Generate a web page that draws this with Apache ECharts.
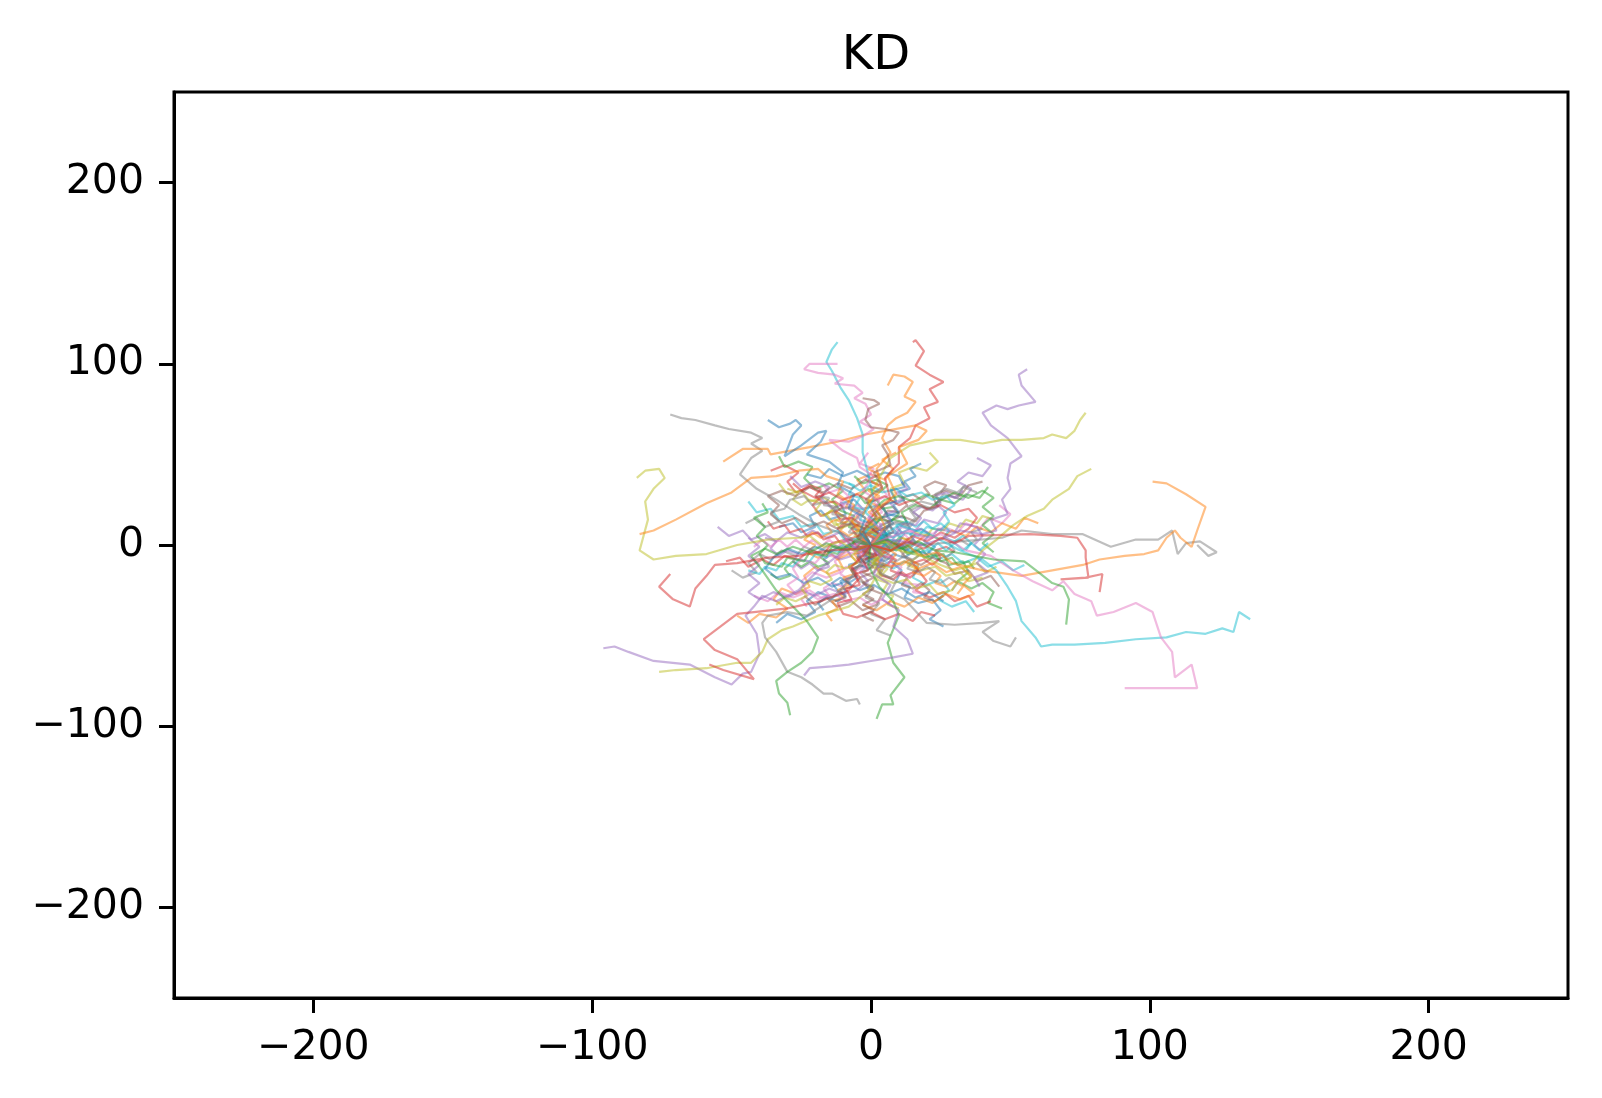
<!DOCTYPE html>
<html>
<head>
<meta charset="utf-8">
<script src="https://cdn.jsdelivr.net/npm/echarts@6/dist/echarts.min.js"></script>
<style>
  html, body { margin: 0; padding: 0; background: #fff; }
  #chart { width: 1602px; height: 1098px; }
</style>
</head>
<body>
<div id="chart"></div>
<script>
// tab10 palette (matplotlib default cycle)
var palette = {
    blue: '#1f77b4', orange: '#ff7f0e', green: '#2ca02c', red: '#d62728', purple: '#9467bd',
    brown: '#8c564b', pink: '#e377c2', gray: '#7f7f7f', yellow: '#bcbd22', cyan: '#17becf'
};

var tickValues = [-200, -100, 0, 100, 200];

// walks that reach far from the origin
var outerWalks = [
    [[0,0],[4,-3],[8,2],[12,-1],[15,3],[18,0],[32,2],[47,4],[54,8],[65,6],[76,6],[86,-1],[95,3],[103,3],[108,8],[110,-5],[113,1],[118,2],[124,-4],[121,-6],[117,0]],
    [[0,0],[7,-3],[12,1],[18,-6],[24,-4],[29,-10],[40,-14],[54,-17],[65,-14],[76,-11],[82,-8],[91,-6],[98,-5],[103,-3],[106,4],[109,8],[111,4],[115,-1],[117,8],[120,21],[113,28],[106,34],[101,35]],
    [[0,0],[5,6],[10,11],[16,8],[21,6],[27,1],[32,-3],[40,-8],[45,-14],[49,-23],[52,-31],[54,-42],[59,-51],[61,-56],[65,-55],[73,-55],[84,-54],[95,-52],[106,-51],[113,-48],[120,-49],[126,-46],[130,-48],[132,-37],[136,-41]],
    [[0,0],[6,4],[14,8],[20,3],[25,6],[30,1],[34,-3],[43,-6],[51,-14],[58,-20],[65,-25],[69,-20],[73,-27],[79,-31],[81,-39],[87,-37],[95,-32],[101,-37],[104,-51],[108,-59],[109,-73],[115,-66],[117,-79],[91,-79]],
    [[0,0],[3,6],[-2,11],[1,17],[7,25],[5,37],[10,45],[10,54],[14,59],[16,66],[21,70],[19,76],[24,79],[21,86],[26,90],[21,94],[16,99],[19,107],[16,113],[15,112]],
    [[0,0],[-3,3],[1,11],[-3,16],[-1,23],[4,31],[2,42],[7,51],[4,59],[6,66],[9,70],[13,73],[16,79],[12,82],[15,90],[12,93],[8,94],[6,88]],
    [[0,0],[5,3],[9,-2],[14,2],[18,0],[25,3],[32,8],[40,6],[45,8],[43,14],[49,17],[47,25],[50,31],[49,37],[50,45],[54,49],[49,59],[43,66],[40,73],[45,77],[49,75],[53,77],[59,79],[54,88],[53,94],[56,97]],
    [[0,0],[3,5],[-2,9],[2,14],[-1,25],[3,37],[7,48],[14,55],[23,58],[32,58],[40,56],[47,58],[54,58],[62,59],[65,61],[70,59],[73,63],[75,69],[77,73]],
    [[0,0],[5,2],[10,-3],[18,-6],[25,-11],[30,-14],[36,-11],[40,-3],[45,3],[51,11],[56,16],[62,20],[65,25],[71,31],[74,38],[79,42]],
    [[0,0],[-4,-3],[-8,1],[-12,-6],[-19,-14],[-26,-25],[-34,-31],[-39,-28],[-42,-34],[-45,-39],[-41,-49],[-40,-60],[-43,-70],[-46,-71],[-50,-77],[-56,-73],[-65,-66],[-78,-64],[-87,-59],[-92,-56],[-96,-57]],
    [[0,0],[4,-5],[0,-9],[3,-14],[-1,-25],[-8,-34],[-19,-39],[-28,-45],[-32,-47],[-37,-52],[-39,-59],[-43,-65],[-48,-65],[-59,-68],[-70,-69],[-76,-70]],
    [[0,0],[-3,-8],[-8,-20],[-15,-31],[-23,-39],[-30,-37],[-37,-39],[-39,-43],[-38,-51],[-34,-59],[-30,-70],[-25,-73],[-21,-77],[-17,-82],[-14,-82],[-9,-86],[-5,-85],[-4,-88]],
    [[0,0],[-1,-11],[3,-23],[8,-31],[10,-39],[6,-54],[8,-65],[12,-73],[7,-83],[8,-88],[4,-88],[2,-96]],
    [[0,0],[-5,3],[-10,-2],[-16,1],[-22,-4],[-28,-1],[-34,-5],[-38,-2],[-43,-6],[-39,-14],[-34,-25],[-28,-34],[-23,-42],[-19,-51],[-21,-59],[-25,-65],[-30,-70],[-34,-75],[-33,-82],[-30,-87],[-29,-94]],
    [[0,0],[-6,-3],[-11,2],[-17,-1],[-22,5],[-26,4],[-37,3],[-48,0],[-59,-5],[-70,-6],[-78,-8],[-83,-3],[-80,14],[-81,24],[-78,31],[-74,37],[-76,42],[-81,41],[-84,37]],
    [[0,0],[-5,2],[-10,6],[-19,11],[-26,17],[-34,25],[-41,31],[-47,39],[-43,48],[-39,52],[-43,56],[-39,59],[-43,62],[-51,64],[-56,66],[-63,69],[-68,70],[-72,72]],
    [[0,0],[-4,-2],[-15,-3],[-26,-6],[-37,-7],[-48,-10],[-56,-11],[-59,-17],[-63,-24],[-65,-34],[-71,-30],[-76,-23],[-72,-16]],
    [[0,0],[-3,-6],[-7,-12],[-4,-18],[-8,-25],[-18,-31],[-30,-35],[-42,-37],[-48,-38],[-60,-52],[-56,-58],[-48,-63],[-42,-74],[-53,-69],[-58,-66]],
    [[0,0],[-4,8],[-8,15],[-6,22],[-12,28],[-10,35],[-16,38],[-19,42],[-26,41],[-34,38],[-43,37],[-50,29],[-59,23],[-70,14],[-78,8],[-83,6]],
    [[0,0],[5,10],[2,20],[9,28],[6,38],[13,45],[10,54],[17,58],[20,63],[16,66],[-2,61],[-12,57],[-22,54],[-36,50],[-37,53],[-46,53],[-53,46]],
    [[0,0],[-3,6],[2,12],[-2,18],[1,25],[-1,39],[-3,51],[-3,61],[-5,70],[-8,80],[-11,87],[-14,96],[-16,101],[-14,108],[-12,112]],
    [[0,0],[4,8],[-1,15],[3,24],[-3,30],[1,38],[-4,43],[-5,48],[-10,52],[-15,58],[-8,57],[-3,60],[1,64],[-4,68],[0,72],[-2,78],[-6,81],[-3,84],[-6,88],[-13,89],[-10,92],[-13,94],[-19,95],[-24,97],[-22,100],[-12,100]],
    [[0,0],[-3,8],[2,16],[-2,25],[4,32],[1,40],[7,44],[6,50],[4,55],[8,58],[10,62],[5,64],[0,65],[-2,69],[-1,75],[3,78],[1,80],[-3,81]],
    [[0,0],[-4,7],[-2,15],[-8,20],[-6,28],[-12,33],[-10,40],[-15,46],[-23,50],[-18,57],[-16,63],[-19,62],[-25,55],[-31,49],[-30,53],[-28,61],[-25,66],[-27,69],[-29,67],[-33,65],[-37,69]],
    [[0,0],[4,-8],[1,-16],[7,-22],[4,-30],[10,-36],[8,-45],[13,-52],[15,-60],[8,-62],[0,-64],[-8,-66],[-14,-67],[-22,-68],[-24,-72]],
    [[0,0],[5,-7],[3,-15],[9,-20],[7,-26],[12,-30],[20,-43],[30,-44],[40,-43],[46,-42],[40,-48],[44,-53],[50,-56],[52,-51]],
    [[0,0],[6,3],[11,-2],[17,2],[23,-3],[30,-4],[44,-8],[55,-9],[60,-15],[65,-21],[69,-23],[71,-30],[70,-44]],
    [[0,0],[7,-3],[13,2],[19,-2],[25,4],[30,1],[35,5],[57,6],[68,5],[74,4],[77,-3],[77,-7],[78,-18],[68,-19],[77,-18],[83,-16],[82,-26]]
];
var outerColors = ['gray','orange','cyan','pink','red','orange','purple','yellow','yellow','purple',
    'yellow','gray','green','green','yellow','gray','red','red','orange','orange',
    'cyan','pink','brown','blue','purple','gray','green','red'];

// the dense tangle near the origin
var coreWalks = [
    [[0,0],[4,3],[2,8],[7,10],[10,6],[14,9],[12,15],[6,17],[3,22],[-3,20],[-6,25],[-11,23],[-9,17],[-15,14],[-18,19],[-22,16],[-20,10],[-25,7],[-28,12],[-33,10]],
    [[0,0],[-3,-4],[-8,-2],[-12,-7],[-10,-13],[-15,-16],[-20,-12],[-24,-17],[-22,-23],[-27,-27],[-32,-24],[-35,-30],[-30,-35],[-34,-40],[-40,-38],[-44,-43],[-48,-39]],
    [[0,0],[5,-3],[9,1],[13,-4],[18,-2],[21,-7],[26,-5],[28,-11],[33,-9],[35,-15],[31,-20],[36,-24],[40,-21],[44,-26],[42,-32],[47,-35]],
    [[0,0],[-4,5],[-9,3],[-12,9],[-8,14],[-13,19],[-18,16],[-21,22],[-17,28],[-22,32],[-27,29],[-30,35],[-26,40],[-31,44],[-36,41]],
    [[0,0],[3,6],[8,4],[11,10],[16,8],[19,14],[24,12],[27,18],[23,23],[28,27],[33,25],[36,31],[31,35],[35,40],[40,38],[43,44],[38,48]],
    [[0,0],[-2,-6],[3,-9],[1,-15],[-4,-18],[-1,-24],[4,-27],[2,-33],[-3,-36],[-7,-31],[-12,-34],[-16,-29],[-20,-33],[-24,-28]],
    [[0,0],[6,2],[10,-2],[15,1],[12,6],[17,9],[22,6],[26,10],[31,7],[34,12],[39,9],[42,15],[47,12],[50,17],[46,22]],
    [[0,0],[-6,1],[-10,-3],[-15,0],[-19,-4],[-24,-1],[-27,-6],[-32,-3],[-36,-8],[-40,-5],[-44,-10],[-41,-15],[-46,-18],[-50,-14]],
    [[0,0],[2,5],[-2,9],[1,14],[6,16],[4,22],[9,25],[7,31],[12,34],[10,40],[15,43],[20,41],[24,46],[21,51]],
    [[0,0],[5,-5],[3,-10],[8,-13],[12,-9],[17,-12],[15,-18],[20,-22],[25,-19],[28,-25],[24,-30],[29,-34],[34,-31],[37,-37]],
    [[0,0],[-5,-3],[-3,-9],[-8,-11],[-6,-17],[-11,-20],[-9,-26],[-14,-29],[-19,-26],[-23,-31],[-20,-37],[-25,-41],[-30,-38],[-34,-43]],
    [[0,0],[7,-1],[11,4],[16,1],[20,6],[25,3],[29,8],[34,5],[38,10],[43,7],[47,12],[52,9],[55,15],[60,12]],
    [[0,0],[-3,7],[-8,10],[-6,16],[-11,19],[-14,25],[-10,30],[-15,34],[-20,31],[-24,37],[-21,43],[-26,46],[-31,43],[-33,49]],
    [[0,0],[4,-6],[9,-8],[7,-14],[12,-17],[17,-14],[20,-20],[16,-25],[21,-29],[26,-26],[30,-31],[35,-28],[38,-34],[43,-31]],
    [[0,0],[-7,2],[-11,7],[-16,4],[-21,8],[-25,4],[-30,7],[-34,2],[-38,6],[-43,3],[-46,8],[-51,5],[-55,10]],
    [[0,0],[3,5],[8,7],[6,13],[11,16],[16,13],[19,19],[24,21],[22,27],[27,30],[32,27],[35,33],[40,35]],
    [[0,0],[-4,-5],[-9,-4],[-13,-9],[-11,-15],[-16,-18],[-21,-15],[-25,-20],[-23,-26],[-28,-29],[-33,-26],[-37,-31],[-42,-28]],
    [[0,0],[6,4],[4,9],[9,12],[14,10],[17,16],[13,21],[18,24],[23,22],[26,28],[31,26],[33,32],[38,29]],
    [[0,0],[-5,4],[-3,10],[-8,13],[-13,11],[-16,17],[-12,22],[-17,26],[-22,24],[-25,30],[-30,28],[-33,34]],
    [[0,0],[6,-3],[11,0],[15,-5],[20,-3],[24,-8],[29,-5],[33,-10],[38,-7],[42,-12],[47,-9],[51,-14],[55,-11]],
    [[0,0],[2,-4],[-2,-8],[3,-12],[7,-9],[11,-14],[9,-20],[14,-23],[12,-29],[17,-32],[22,-30],[25,-36],[21,-41],[26,-45]],
    [[0,0],[-4,3],[-2,9],[-7,12],[-4,18],[-9,21],[-7,27],[-2,30],[-5,36],[0,39],[5,36],[8,42],[4,47],[9,51]],
    [[0,0],[5,4],[3,10],[8,14],[13,12],[11,18],[16,22],[21,20],[25,25],[30,23],[34,28],[39,26],[42,32]],
    [[0,0],[-6,-2],[-9,3],[-14,1],[-17,-5],[-22,-3],[-26,-8],[-31,-6],[-35,-11],[-39,-8],[-44,-12],[-47,-7],[-52,-9]],
    [[0,0],[4,5],[0,10],[-5,8],[-8,14],[-4,19],[-9,23],[-14,20],[-18,26],[-15,32],[-20,35],[-25,32],[-29,38]],
    [[0,0],[5,-4],[10,-2],[13,-8],[18,-11],[22,-7],[27,-10],[30,-16],[35,-14],[38,-20],[43,-17],[46,-23]],
    [[0,0],[-3,6],[2,9],[-1,15],[4,18],[1,24],[6,27],[3,33],[-2,36],[1,42],[-4,45],[-1,51]],
    [[0,0],[-5,-5],[-2,-11],[-7,-14],[-4,-20],[1,-23],[-2,-29],[3,-32],[0,-38],[5,-41],[2,-47],[7,-50]],
    [[0,0],[6,2],[9,-3],[14,-1],[17,-6],[13,-11],[18,-14],[23,-12],[27,-17],[32,-15],[35,-20],[40,-18]],
    [[0,0],[-4,4],[-9,2],[-12,8],[-17,6],[-20,12],[-25,10],[-28,16],[-33,14],[-36,20],[-41,18],[-44,24]],
    [[0,0],[3,-2],[6,1],[4,5],[8,7],[11,4],[9,-1],[13,-3],[16,1],[14,6],[18,9],[21,6],[19,2],[23,-1],[20,-5],[16,-3],[12,-7],[8,-5],[5,-9],[1,-7],[-2,-10],[-5,-6]],
    [[0,0],[-3,2],[-1,6],[-5,8],[-8,5],[-11,8],[-9,12],[-13,14],[-16,11],[-14,7],[-18,4],[-21,7],[-24,3],[-20,0],[-23,-4],[-19,-7],[-15,-4],[-12,-8],[-8,-5],[-5,-9]],
    [[0,0],[2,4],[6,3],[5,8],[1,10],[3,14],[7,13],[10,17],[8,21],[4,20],[2,25],[-2,23],[-4,27],[-1,31],[3,29],[6,33],[2,36],[-3,34],[-6,38]],
    [[0,0],[-2,-3],[1,-6],[5,-4],[8,-7],[6,-11],[2,-13],[4,-17],[8,-19],[11,-15],[14,-18],[17,-14],[15,-10],[19,-8],[22,-11],[25,-7],[23,-3],[27,-1],[30,-4]],
    [[0,0],[-3,-2],[-6,1],[-9,-2],[-7,-6],[-11,-8],[-14,-5],[-17,-8],[-15,-12],[-19,-14],[-22,-10],[-25,-13],[-28,-9],[-26,-5],[-30,-3],[-33,-6],[-36,-2],[-34,2],[-38,4]],
    [[0,0],[2,3],[-1,5],[1,9],[5,8],[7,12],[4,15],[6,19],[10,18],[13,22],[11,26],[15,28],[18,25],[21,28],[19,32],[23,35],[27,33],[25,29]],
    [[0,0],[3,-3],[0,-6],[-3,-4],[-5,-8],[-2,-11],[-5,-14],[-9,-12],[-11,-16],[-8,-19],[-10,-23],[-14,-21],[-17,-24],[-15,-28],[-19,-30],[-22,-27],[-25,-30],[-23,-34]],
    [[0,0],[4,1],[7,-2],[10,1],[13,-2],[11,-6],[15,-8],[18,-5],[21,-8],[24,-4],[27,-7],[30,-3],[28,1],[32,3],[35,0],[38,3],[36,7],[40,9]],
    [[0,0],[-2,4],[-6,5],[-4,9],[-8,11],[-11,9],[-13,13],[-10,16],[-14,19],[-17,16],[-20,19],[-18,23],[-22,25],[-25,22],[-28,25],[-26,29],[-30,31]],
    [[0,0],[3,2],[1,6],[5,7],[8,4],[11,7],[9,11],[13,13],[16,10],[19,13],[22,9],[25,12],[28,8],[26,4],[30,2],[33,5],[36,1],[34,-3]],
    [[0,0],[-3,-3],[-1,-7],[2,-10],[-1,-13],[-4,-11],[-7,-14],[-5,-18],[-8,-21],[-11,-18],[-14,-21],[-12,-25],[-9,-28],[-12,-31],[-16,-29],[-19,-32],[-17,-36]],
    [[0,0],[2,-3],[6,-2],[9,-5],[7,-9],[11,-11],[14,-8],[17,-11],[15,-15],[19,-17],[22,-14],[25,-17],[23,-21],[27,-23],[30,-20],[33,-23],[31,-27]],
    [[0,0],[-4,1],[-6,-3],[-10,-1],[-12,-5],[-16,-3],[-18,-7],[-15,-10],[-19,-12],[-22,-9],[-25,-12],[-28,-9],[-31,-13],[-29,-17],[-33,-19],[-36,-16]],
    [[0,0],[1,4],[-2,7],[-5,5],[-7,9],[-4,12],[-7,15],[-11,14],[-13,18],[-10,21],[-13,24],[-17,23],[-20,27],[-18,31],[-22,33],[-25,30],[-28,34]],
    [[0,0],[4,-1],[6,3],[10,2],[12,6],[9,9],[12,12],[16,11],[18,15],[15,18],[18,21],[22,19],[25,23],[23,27],[27,29],[30,26],[33,30]],
    [[0,0],[-1,-4],[3,-6],[1,-10],[5,-12],[3,-16],[7,-18],[10,-15],[13,-18],[11,-22],[15,-24],[18,-21],[21,-25],[19,-29],[23,-31],[26,-28]],
    [[0,0],[-3,2],[-2,6],[2,7],[4,11],[1,14],[-3,12],[-5,16],[-2,19],[-5,22],[-9,20],[-11,24],[-8,27],[-11,31],[-15,29],[-17,33]],
    [[0,0],[3,-4],[7,-3],[5,-7],[9,-9],[12,-6],[15,-9],[13,-13],[17,-15],[20,-12],[23,-15],[21,-19],[25,-21],[28,-18],[31,-21],[29,-25]],
    [[0,0],[4,2],[8,0],[10,4],[14,3],[16,7],[20,5],[22,9],[26,8],[28,12],[32,10],[34,14],[38,12],[40,16],[44,14]],
    [[0,0],[-4,-2],[-8,0],[-10,-4],[-14,-3],[-16,-7],[-20,-5],[-22,-9],[-26,-8],[-28,-12],[-32,-10],[-34,-14],[-38,-12],[-40,-16],[-44,-14]],
    [[0,0],[2,3],[6,5],[4,9],[8,12],[6,16],[10,18],[8,22],[12,25],[10,29],[14,31],[12,35],[16,38],[14,42],[18,45]],
    [[0,0],[-2,-3],[-6,-5],[-4,-9],[-8,-12],[-6,-16],[-10,-18],[-8,-22],[-12,-25],[-10,-29],[-14,-31],[-12,-35],[-16,-38],[-14,-42]],
    [[0,0],[5,1],[7,-3],[11,-1],[13,-5],[17,-3],[19,-7],[23,-5],[25,-9],[29,-7],[31,-11],[35,-9],[37,-13]],
    [[0,0],[-5,-1],[-7,3],[-11,1],[-13,5],[-17,3],[-19,7],[-23,5],[-25,9],[-29,7],[-31,11],[-35,9],[-37,13]],
    [[0,0],[1,5],[5,7],[3,11],[7,13],[5,17],[9,19],[7,23],[11,25],[9,29],[13,31],[11,35]],
    [[0,0],[-1,-5],[-5,-7],[-3,-11],[-7,-13],[-5,-17],[-9,-19],[-7,-23],[-11,-25],[-9,-29],[-13,-31]],
    [[0,0],[5,-2],[3,-6],[8,-7],[6,-11],[11,-12],[9,-16],[14,-17],[12,-21],[17,-22],[15,-26],[20,-27]],
    [[0,0],[-5,2],[-3,6],[-8,7],[-6,11],[-11,12],[-9,16],[-14,17],[-12,21],[-17,22],[-15,26],[-20,27]],
    [[0,0],[-2,-5],[2,-7],[0,-12],[4,-14],[2,-19],[6,-21],[4,-26],[8,-28],[6,-33],[10,-35]],
    [[0,0],[2,5],[-2,7],[0,12],[-4,14],[-2,19],[-6,21],[-4,26],[-8,28],[-6,33],[-10,35]]
];

// walks that loop back round the tangle instead of heading straight out
var loopWalks = [
    [[0,0],[5,3],[10,0],[15,5],[20,2],[25,7],[30,4],[35,9],[38,15],[35,20],[30,18],[25,22],[20,20],[15,25],[10,22],[5,27],[0,24],[-5,28],[-10,25],[-15,29],[-20,26],[-25,30]],
    [[0,0],[-5,-3],[-10,0],[-15,-4],[-20,-1],[-25,-5],[-30,-2],[-35,-7],[-38,-13],[-34,-18],[-29,-16],[-24,-21],[-19,-18],[-14,-23],[-9,-20],[-4,-25],[1,-22],[6,-27],[11,-24],[16,-29],[21,-26],[26,-31]],
    [[0,0],[3,5],[0,10],[4,15],[1,20],[5,25],[10,27],[15,24],[20,28],[25,25],[30,29],[35,26],[40,30],[44,26],[40,21],[44,16],[40,11],[44,6],[40,1],[44,-4]],
    [[0,0],[-3,-5],[0,-10],[-4,-15],[-1,-20],[-5,-25],[-10,-27],[-15,-24],[-20,-28],[-25,-25],[-30,-29],[-35,-26],[-40,-30],[-44,-26],[-40,-21],[-44,-16],[-40,-11],[-44,-6],[-40,-1],[-44,4]],
    [[0,0],[5,-4],[2,-9],[7,-12],[12,-9],[17,-13],[22,-10],[27,-15],[32,-12],[36,-17],[33,-22],[37,-27],[32,-30],[27,-27],[22,-32],[17,-29],[12,-34],[7,-31],[2,-36],[-3,-33]],
    [[0,0],[-5,4],[-2,9],[-7,12],[-12,9],[-17,13],[-22,10],[-27,15],[-32,12],[-36,17],[-33,22],[-37,27],[-32,30],[-27,27],[-22,32],[-17,29],[-12,34],[-7,31],[-2,36],[3,33]],
    [[0,0],[4,4],[9,2],[12,7],[17,5],[20,10],[25,8],[28,13],[26,18],[30,22],[27,27],[22,25],[18,29],[13,27],[9,31],[4,29],[0,33],[-4,30],[-8,34]],
    [[0,0],[-4,-4],[-9,-2],[-12,-7],[-17,-5],[-20,-10],[-25,-8],[-28,-13],[-26,-18],[-30,-22],[-27,-27],[-22,-25],[-18,-29],[-13,-27],[-9,-31],[-4,-29],[0,-33],[4,-30],[8,-34]],
    [[0,0],[-4,5],[-1,10],[-6,13],[-3,18],[-8,21],[-13,19],[-16,24],[-21,22],[-24,27],[-29,25],[-31,20],[-36,18],[-33,13],[-38,10],[-41,15],[-45,12]],
    [[0,0],[4,-5],[1,-10],[6,-13],[3,-18],[8,-21],[13,-19],[16,-24],[21,-22],[24,-27],[29,-25],[31,-20],[36,-18],[33,-13],[38,-10],[41,-15],[45,-12]],
    [[0,0],[2,-6],[-3,-8],[-1,-14],[-6,-16],[-4,-22],[-9,-24],[-7,-30],[-12,-32],[-10,-38],[-5,-40],[0,-37],[5,-41],[10,-38],[15,-42],[18,-37],[23,-39]],
    [[0,0],[-2,6],[3,8],[1,14],[6,16],[4,22],[9,24],[7,30],[12,32],[10,38],[5,40],[0,37],[-5,41],[-10,38],[-15,42],[-18,37],[-23,39]],
    [[0,0],[-6,2],[-8,-3],[-14,-1],[-16,-6],[-22,-4],[-24,-9],[-30,-7],[-32,-12],[-38,-10],[-40,-5],[-37,0],[-41,5],[-38,10],[-42,15],[-37,18],[-39,23]],
    [[0,0],[6,-2],[8,3],[14,1],[16,6],[22,4],[24,9],[30,7],[32,12],[38,10],[40,5],[37,0],[41,-5],[38,-10],[42,-15],[37,-18],[39,-23]],
    [[0,0],[3,3],[-1,6],[3,9],[-1,12],[3,15],[-1,18],[3,21],[-1,24],[3,27],[-1,30],[3,33],[-1,36],[3,39],[-1,42],[3,45]],
    [[0,0],[-3,-3],[1,-6],[-3,-9],[1,-12],[-3,-15],[1,-18],[-3,-21],[1,-24],[-3,-27],[1,-30],[-3,-33],[1,-36],[-3,-39],[1,-42]],
    [[0,0],[3,-3],[6,1],[9,-3],[12,1],[15,-3],[18,1],[21,-3],[24,1],[27,-3],[30,1],[33,-3],[36,1],[39,-3],[42,1]],
    [[0,0],[-3,3],[-6,-1],[-9,3],[-12,-1],[-15,3],[-18,-1],[-21,3],[-24,-1],[-27,3],[-30,-1],[-33,3],[-36,-1],[-39,3],[-42,-1]],
    [[0,0],[4,2],[7,6],[5,10],[9,13],[13,11],[16,15],[14,19],[18,22],[22,20],[25,24],[23,28],[27,31],[31,29],[34,33]],
    [[0,0],[-4,-2],[-7,-6],[-5,-10],[-9,-13],[-13,-11],[-16,-15],[-14,-19],[-18,-22],[-22,-20],[-25,-24],[-23,-28],[-27,-31],[-31,-29],[-34,-33]]
];
var loopColors = ['red','blue','green','purple','orange','brown','cyan','pink','gray','yellow'];
var coreColors = ['blue','orange','green','red','purple','brown','pink','gray','yellow','cyan'];

var chart = echarts.init(document.getElementById('chart'));

var series = [];
function addWalk(pts, col) {
    series.push({
        type: 'line',
        data: pts,
        showSymbol: false,
        silent: true,
        lineStyle: { color: palette[col], width: 2.2, opacity: 0.5 },
        z: 2
    });
}
coreWalks.forEach(function (w, i) { addWalk(w, coreColors[i % coreColors.length]); });
loopWalks.forEach(function (w, i) { addWalk(w, loopColors[i % loopColors.length]); });
outerWalks.forEach(function (w, i) { addWalk(w, outerColors[i]); });

function fmt(v) {
    return v < 0 ? '\u2212' + (-v) : String(v);
}

var axisCommon = {
    type: 'value',
    min: -250,
    max: 250,
    splitLine: { show: false },
    axisLine: { show: true, onZero: false, lineStyle: { color: '#000', width: 3 } },
    axisTick: { show: true, customValues: tickValues, length: 15, lineStyle: { color: '#000', width: 3 } },
    axisLabel: {
        customValues: tickValues,
        formatter: fmt,
        color: '#000',
        fontSize: 41,
        fontFamily: 'DejaVu Sans',
        margin: 30
    }
};

chart.setOption({
    animation: false,
    backgroundColor: '#fff',
    title: {
        text: 'KD',
        left: 871,
        top: 28,
        textAlign: 'center',
        textStyle: { fontFamily: 'DejaVu Sans', fontSize: 48, fontWeight: 'normal', color: '#000' }
    },
    grid: {
        left: 174, right: 34, top: 92, bottom: 100,
        show: true, borderColor: '#000', borderWidth: 3, backgroundColor: 'transparent'
    },
    xAxis: echarts.util.merge({ position: 'bottom' }, axisCommon, true),
    yAxis: echarts.util.merge({ position: 'left' }, axisCommon, true),
    series: series
});
</script>
</body>
</html>
